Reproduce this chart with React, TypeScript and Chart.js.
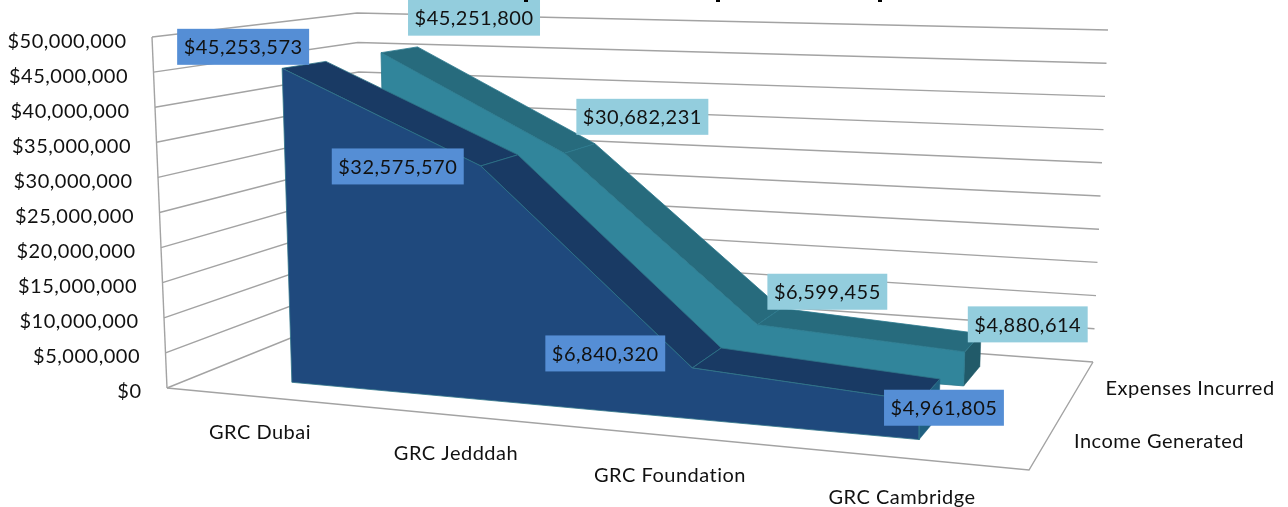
import React, { useEffect, useRef } from "react";
import { Chart, registerables, LinearScale } from "chart.js";

const categories = ["GRC Dubai", "GRC Jedddah", "GRC Foundation", "GRC Cambridge"];
const incomeGenerated = [45253573, 32575570, 6840320, 4961805];
const expensesIncurred = [45251800, 30682231, 6599455, 4880614];
const seriesNames = ["Income Generated", "Expenses Incurred"];
const valueTicks = [0, 5e6, 10e6, 15e6, 20e6, 25e6, 30e6, 35e6, 40e6, 45e6, 50e6];

const W = 1288, H = 507, AXIS_W = 146, VMAX = 50e6;
const PX_PER_UNIT = 7 / 1e6, ZERO_PX = 390;
type P = [number, number];

// Perspective of the 3D box, as the four floor corners and four ceiling corners (FL, FR, BR, BL)
const floorQuad: P[] = [[167, 388], [1029, 470], [1093, 362], [365, 308]];
const topQuad: P[] = [[152, 37], [1041, 62.5], [1108, 30], [357, 13]];
const planes = { incFront: 0.15, incBack: 0.36, expFront: 0.65, expBack: 0.86 };

function homography(q: P[]) {
  const [[x0, y0], [x1, y1], [x2, y2], [x3, y3]] = q;
  const dx1 = x1 - x2, dx2 = x3 - x2, sx = x0 - x1 + x2 - x3;
  const dy1 = y1 - y2, dy2 = y3 - y2, sy = y0 - y1 + y2 - y3;
  const den = dx1 * dy2 - dx2 * dy1;
  const g = (sx * dy2 - dx2 * sy) / den, h = (dx1 * sy - sx * dy1) / den;
  const a = x1 - x0 + g * x1, b = x3 - x0 + h * x3, d = y1 - y0 + g * y1, e = y3 - y0 + h * y3;
  return (u: number, v: number): P => {
    const w = g * u + h * v + 1;
    return [(a * u + b * v + x0) / w, (d * u + e * v + y0) / w];
  };
}
const floorH = homography(floorQuad), topH = homography(topQuad);
function project(u: number, depth: number, value: number): P {
  const f = floorH(u, depth), t = topH(u, depth), k = value / VMAX;
  return [f[0] + (t[0] - f[0]) * k, f[1] + (t[1] - f[1]) * k];
}
const catU = (i: number) => (i + 0.5) / categories.length;
const toData = (p: P) => ({ x: p[0], y: (ZERO_PX - p[1]) / PX_PER_UNIT });

class SlantedScale extends LinearScale {
  static id = "slanted";
  static defaults = LinearScale.defaults;
  _computeLabelItems(area: any) {
    const items = super._computeLabelItems(area);
    items.forEach((item: any, i: number) => {
      const v = (this as any).ticks[i].value;
      item.options.translation = [project(0, 0, v)[0] - 25.5, item.options.translation[1] + 2];
      item.options.textAlign = "right";
    });
    return items;
  }
}
Chart.register(...registerables, SlantedScale);

const money = (v: number) => "$" + Math.round(v).toLocaleString("en-US");

const FONT = "Lato";
const LETTER = "0.5px";
const incomeLabelOffsets: P[] = [[-39, -21.5], [-83, 0.5], [-87, -14.5], [24, 6.5]];
const expenseLabelOffsets: P[] = [[93, -35], [78, -36.5], [70, -33], [63, -27.5]];
const categoryLabelPos: P[] = [[260, 432.5], [456, 453.5], [670, 475.5], [902, 497.5]];
const seriesLabelPos: P[] = [[1159, 442], [1190, 389]];
const titleStubs = [526, 718, 880];

function poly(points: P[], fill: string, border: string, borderWidth = 1) {
  return {
    data: [...points, points[0]].map(toData),
    fill: "shape",
    backgroundColor: fill,
    borderColor: border,
    borderWidth,
    pointRadius: 0,
    tension: 0,
  };
}
function line(points: P[], color = "#a3a3a3", borderWidth = 1.4) {
  return {
    data: points.map(toData),
    fill: false,
    borderColor: color,
    borderWidth,
    pointRadius: 0,
    tension: 0,
  };
}

function areaDatasets(values: number[], front: number, back: number, c: { front: string; top: string; end: string; edge: string }) {
  const out: any[] = [];
  const n = values.length;
  out.push(poly([
    project(catU(n - 1), front, 0), project(catU(n - 1), back, 0),
    project(catU(n - 1), back, values[n - 1]), project(catU(n - 1), front, values[n - 1]),
  ], c.end, c.end, 0.5));
  for (let i = 0; i < n - 1; i++) {
    out.push(poly([
      project(catU(i), front, values[i]), project(catU(i + 1), front, values[i + 1]),
      project(catU(i + 1), back, values[i + 1]), project(catU(i), back, values[i]),
    ], c.top, c.edge, 0.8));
  }
  const frontPts: P[] = values.map((v, i) => project(catU(i), front, v));
  out.push(poly([project(catU(0), front, 0), ...frontPts, project(catU(n - 1), front, 0)], c.front, c.edge, 0.8));
  return out;
}

function buildDatasets() {
  const ds: any[] = [];
  for (const v of valueTicks) {
    ds.push(line([project(0, 0, v), project(0, 1, v), project(1, 1, v)]));
  }
  ds.push(line([project(0, 0, 0), project(0, 0, VMAX)]));
  ds.push(line([project(0, 0, 0), project(1, 0, 0), project(1, 1, 0)]));
  ds.push(...areaDatasets(expensesIncurred, planes.expFront, planes.expBack, {
    front: "#31859b", top: "#276b7d", end: "#215a69", edge: "#2c7a8e",
  }));
  ds.push(...areaDatasets(incomeGenerated, planes.incFront, planes.incBack, {
    front: "#1f497d", top: "#193a64", end: "#1f5f80", edge: "#2f7488",
  }));
  ds.forEach((d, i) => (d.order = ds.length - i));
  return ds;
}

const textPlugin = {
  id: "chartText",
  beforeDraw(chart: any) {
    chart.ctx.letterSpacing = LETTER;
  },
  afterDatasetsDraw(chart: any) {
    const { ctx } = chart;
    ctx.save();
    ctx.textAlign = "center";
    ctx.textBaseline = "middle";
    ctx.font = `20px ${FONT}`;
    ctx.letterSpacing = LETTER;
    const box = (values: number[], depth: number, offs: P[], color: string) => {
      values.forEach((v, i) => {
        const a = project(catU(i), depth, v);
        const cx = a[0] + offs[i][0], cy = a[1] + offs[i][1];
        const t = money(v);
        const w = ctx.measureText(t).width + 13;
        ctx.fillStyle = color;
        ctx.fillRect(cx - w / 2, cy - 18, w, 36);
        ctx.fillStyle = "#111";
        ctx.fillText(t, cx, cy + 1);
      });
    };
    box(expensesIncurred, planes.expFront, expenseLabelOffsets, "#93cddd");
    box(incomeGenerated, planes.incFront, incomeLabelOffsets, "#558ed5");
    ctx.fillStyle = "#111";
    categories.forEach((c, i) => ctx.fillText(c, categoryLabelPos[i][0], categoryLabelPos[i][1]));
    seriesNames.forEach((s, i) => ctx.fillText(s, seriesLabelPos[i][0], seriesLabelPos[i][1]));
    ctx.fillStyle = "#000";
    titleStubs.forEach((x) => ctx.fillRect(x - 2, 0, 4, 2));
    ctx.restore();
  },
};

export default function App() {
  const ref = useRef<HTMLCanvasElement>(null);
  useEffect(() => {
    document.body.style.margin = "0";
    const chart = new Chart(ref.current!, {
      type: "line",
      data: { datasets: buildDatasets() },
      plugins: [textPlugin],
      options: {
        responsive: false,
        animation: false,
        events: [],
        layout: { padding: 0 },
        plugins: { legend: { display: false }, tooltip: { enabled: false }, title: { display: false } },
        scales: {
          x: { type: "linear", display: false, min: AXIS_W, max: W },
          y: {
            type: "slanted",
            position: "left",
            min: (ZERO_PX - H) / PX_PER_UNIT,
            max: ZERO_PX / PX_PER_UNIT,
            afterBuildTicks: (s: any) => { s.ticks = valueTicks.map((value) => ({ value })); },
            afterFit: (s: any) => {
              s.width = AXIS_W;
              s.paddingTop = 0;
              s.paddingBottom = 0;
            },
            grid: { display: false },
            border: { display: false },
            ticks: {
              autoSkip: false,
              color: "#111",
              font: { family: FONT, size: 20 },
              callback: (v: any) => money(Number(v)),
            },
          },
        },
      } as any,
    } as any);
    return () => chart.destroy();
  }, []);
  return <canvas ref={ref} width={W} height={H} style={{ display: "block", width: W, height: H, filter: "blur(0.4px)" }} />;
}
